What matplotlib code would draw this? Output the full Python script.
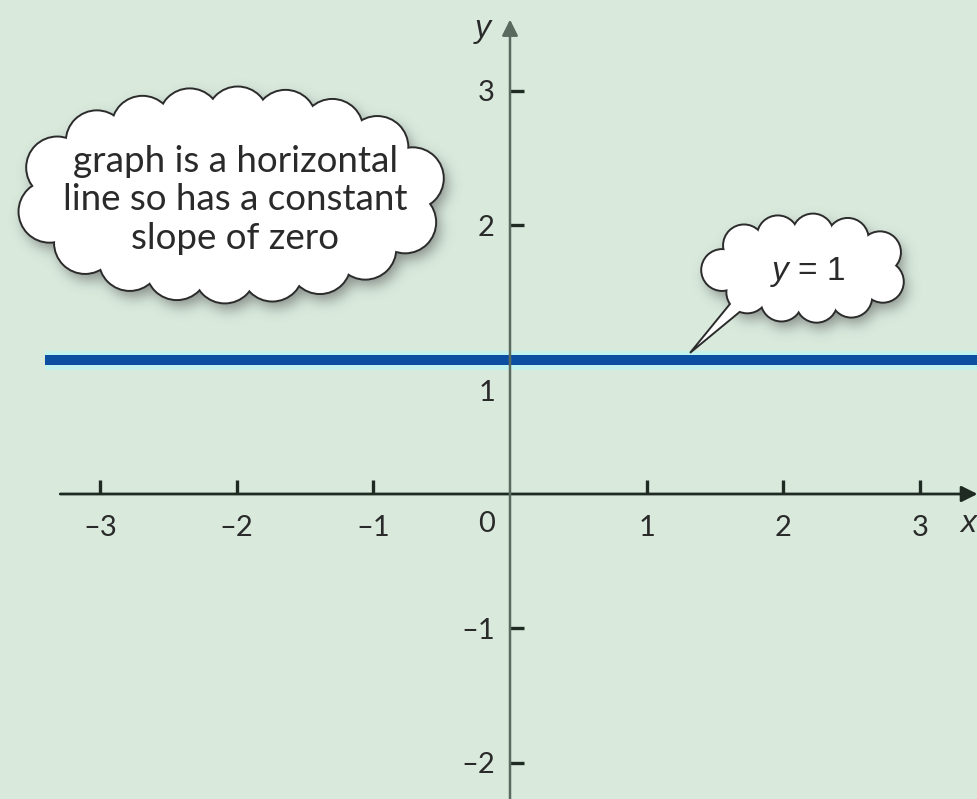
"""
Horizontal line y = 1 on a pair of crossed axes, with two cloud call-outs.
"""

import numpy as np
import matplotlib
matplotlib.use("Agg")
import matplotlib.pyplot as plt
from matplotlib.patches import Ellipse, Polygon

# chart data
line_x = [-3.4, 3.6]
line_y = [1, 1]
x_ticks = [-3, -2, -1, 1, 2, 3]
x_tick_labels = ["\u20133", "\u20132", "\u20131", "1", "2", "3"]
y_ticks = [-2, -1, 2, 3]
y_tick_labels = ["\u20132", "\u20131", "2", "3"]
note_text = "graph is a horizontal\nline so has a constant\nslope of zero"
line_label = "$y$ = 1"

SX = 136.7  # pixels per unit along x
SY = 134.4  # pixels per unit along y
BG = "#d9eadd"
AXIS_DARK = "#1e2a22"
AXIS_GREY = "#5b6a5f"
TEXT = "#2a2a2a"

plt.rcParams["font.family"] = ["Lato", "DejaVu Sans"]
plt.rcParams["mathtext.fontset"] = "custom"
plt.rcParams["mathtext.rm"] = "Liberation Sans"
plt.rcParams["mathtext.it"] = "Liberation Sans:italic"


def blur(img, sigma):
    '''separable gaussian blur, plain numpy'''
    k = np.arange(-3 * sigma, 3 * sigma + 1)
    g = np.exp(-k ** 2 / (2.0 * sigma ** 2))
    g /= g.sum()
    img = np.apply_along_axis(lambda v: np.convolve(v, g, mode="same"), 0, img)
    img = np.apply_along_axis(lambda v: np.convolve(v, g, mode="same"), 1, img)
    return img


def cloud(ax, cx, cy, a, b, r, n, phase=0.0, tail=None):
    '''
    Draws a cloud made of n bumps of radius r (x units) around an
    ellipse of outer half widths a, b, with a soft drop shadow.
    '''
    ry = r * SX / SY  # keep bumps round on screen
    t = np.linspace(0, 2 * np.pi, 3000)
    ex = (a - r) * np.cos(t)
    ey = (b - ry) * np.sin(t)
    s = np.concatenate([[0], np.cumsum(np.hypot(np.diff(ex * SX),
                                                np.diff(ey * SY)))])
    targets = (np.linspace(0, 1, n, endpoint=False) + phase) % 1.0 * s[-1]
    idx = np.clip(np.searchsorted(s, targets), 0, len(t) - 1)
    centers = list(zip(cx + ex[idx], cy + ey[idx]))

    # shadow, rasterised mask blurred with numpy
    m = 0.3
    gx = np.arange(cx - a - m, cx + a + m, 1.0 / SX)
    gy = np.arange(cy - b - m, cy + b + m, 1.0 / SY)
    X, Y = np.meshgrid(gx, gy)
    mask = ((X - cx) / (a - r)) ** 2 + ((Y - cy) / (b - ry)) ** 2 <= 1
    for (x, y) in centers:
        mask |= ((X - x) / r) ** 2 + ((Y - y) / ry) ** 2 <= 1
    soft = blur(mask.astype(float), 7)
    rgba = np.zeros(soft.shape + (4,))
    rgba[..., :3] = 0.3
    rgba[..., 3] = soft * 0.6
    dx, dy = 4.0 / SX, -7.0 / SY
    ax.imshow(rgba, origin="lower", interpolation="bilinear", zorder=4,
              extent=(gx[0] + dx, gx[-1] + dx, gy[0] + dy, gy[-1] + dy),
              aspect="auto")

    # outline: thick edges underneath, white fills on top
    for (x, y) in centers:
        ax.add_patch(Ellipse((x, y), 2 * r, 2 * ry, fc="white",
                             ec="#2b2b2b", lw=2.8, zorder=5))
    if tail is not None:
        ax.add_patch(Polygon(tail, closed=True, fc="white", ec="#2b2b2b",
                             lw=1.4, zorder=5))
    for (x, y) in centers:
        ax.add_patch(Ellipse((x, y), 2 * r, 2 * ry, fc="white", ec="none",
                             zorder=6))
    ax.add_patch(Ellipse((cx, cy), 2 * (a - r), 2 * (b - ry), fc="white",
                         ec="none", zorder=6))


def main():
    fig = plt.figure(figsize=(9.77, 7.99), dpi=100)
    fig.patch.set_facecolor(BG)
    ax = fig.add_axes([0, 0, 1, 1])
    ax.set_facecolor(BG)
    ax.set_xlim(-510 / SX, 467 / SX)
    ax.set_ylim(-305 / SY, 494 / SY)

    # axes through the origin
    for side in ["left", "bottom"]:
        ax.spines[side].set_position("zero")
        ax.spines[side].set_visible(False)
    ax.spines["top"].set_visible(False)
    ax.spines["right"].set_visible(False)

    ax.annotate("", xy=(3.42, 0), xytext=(-3.29, 0), zorder=3,
                annotation_clip=False,
                arrowprops=dict(arrowstyle="-|>", color=AXIS_DARK, lw=2.0,
                                mutation_scale=24, shrinkA=0, shrinkB=0))
    ax.annotate("", xy=(0, 3.53), xytext=(0, -2.4), zorder=3,
                annotation_clip=False,
                arrowprops=dict(arrowstyle="-|>", color=AXIS_GREY, lw=1.8,
                                mutation_scale=24, shrinkA=0, shrinkB=0))

    ax.set_xticks(x_ticks)
    ax.set_xticklabels(x_tick_labels)
    ax.set_yticks(y_ticks)
    ax.set_yticklabels(y_tick_labels)
    ax.tick_params(axis="x", direction="in", length=10, width=2.4,
                   color=AXIS_DARK, pad=15, labelsize=21, labelcolor=TEXT)
    ax.tick_params(axis="y", direction="in", length=10, width=2.4,
                   color=AXIS_DARK, pad=11, labelsize=21, labelcolor=TEXT)

    ax.text(-0.17, -0.22, "0", fontsize=21, color=TEXT, ha="center",
            va="center")
    ax.text(-0.17, 0.75, "1", fontsize=21, color=TEXT, ha="center",
            va="center")
    ax.text(-0.2, 3.46, "y", fontsize=23, color=TEXT, ha="center",
            va="center", family="Liberation Sans", style="italic")
    ax.text(3.41, -0.22, "x", fontsize=23, color=TEXT, ha="right",
            va="center", family="Liberation Sans", style="italic")

    # the line y = 1 with its light halo
    ax.plot(line_x, line_y, color="#c2f2ee", lw=13.5, solid_capstyle="butt",
            zorder=2)
    ax.plot(line_x, line_y, color="#0b4fa3", lw=7.2, solid_capstyle="butt",
            zorder=2.5)

    # call-outs
    cloud(ax, -2.04, 2.225, 1.58, 0.80, 0.22, 18, phase=0.02)
    ax.text(-2.01, 2.19, note_text, fontsize=26.5, color=TEXT,
            ha="center", va="center", linespacing=1.2, zorder=7)

    tail = [(1.63, 1.44), (1.77, 1.43), (1.317, 1.05)]
    cloud(ax, 2.165, 1.68, 0.76, 0.40, 0.146, 11, phase=0.05, tail=tail)
    ax.text(2.18, 1.65, line_label, fontsize=24, color=TEXT,
            family="Liberation Sans", ha="center", va="center", zorder=7)

    fig.savefig("out.png", dpi=100, facecolor=BG)


if __name__ == "__main__":
    main()
